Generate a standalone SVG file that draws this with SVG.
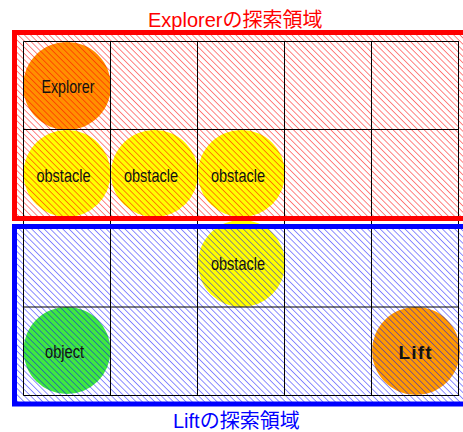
<svg xmlns="http://www.w3.org/2000/svg" width="463" height="432" viewBox="0 0 463 432">
<defs>
<pattern id="hr" patternUnits="userSpaceOnUse" width="4.4" height="10" patternTransform="rotate(-45)">
<line x1="1" y1="0" x2="1" y2="10" stroke="#ff0000" stroke-opacity="0.55" stroke-width="1" shape-rendering="crispEdges"/>
</pattern>
<pattern id="hb" patternUnits="userSpaceOnUse" width="4.4" height="10" patternTransform="rotate(-45)">
<line x1="1" y1="0" x2="1" y2="10" stroke="#0000ff" stroke-opacity="0.5" stroke-width="1" shape-rendering="crispEdges"/>
</pattern>
</defs>
<style>
.lbl{font-family:"Liberation Sans",Arial,sans-serif;font-size:19px;fill:#111;text-anchor:middle}
.ttl{font-family:"Liberation Sans","Noto Sans CJK JP",sans-serif;font-size:20px}
.grid line{stroke:#000;stroke-width:1}
.obs{fill:#ffff00}
</style>
<g id="explorer-area-title"><text class="ttl" x="148" y="27" fill="#ff0000">Explorerの探索領域</text></g>
<g id="lift-area-title"><text class="ttl" x="173" y="428" fill="#0000ff">Liftの探索領域</text></g>

<g id="explorer"><circle cx="67" cy="86" r="44" fill="#ff9000"/></g>
<g id="obstacle1"><circle cx="67" cy="173.5" r="43.5" class="obs"/></g>
<g id="obstacle2"><circle cx="154.5" cy="173.5" r="43.5" class="obs"/></g>
<g id="obstacle3"><circle cx="241.5" cy="173.5" r="43.5" class="obs"/></g>
<g id="obstacle4"><circle cx="241.5" cy="263.5" r="43.5" class="obs"/></g>
<g id="object"><circle cx="67" cy="350.5" r="43.5" fill="#40e840"/></g>
<g id="lift"><circle cx="416" cy="351" r="44" fill="#ff9a00"/></g>

<rect x="14.5" y="32.5" width="460" height="186" fill="url(#hr)"/>
<rect x="14.5" y="226.5" width="460" height="177.5" fill="url(#hb)"/>

<g class="grid">
<line x1="23.5" y1="41.5" x2="459" y2="41.5"/>
<line x1="23.5" y1="129.5" x2="459" y2="129.5"/>
<line x1="23.5" y1="307" x2="459" y2="307"/>
<line x1="23.5" y1="395.5" x2="459" y2="395.5"/>
<line x1="23.5" y1="41.5" x2="23.5" y2="216.5"/>
<line x1="110.5" y1="41.5" x2="110.5" y2="216.5"/>
<line x1="197.5" y1="41.5" x2="197.5" y2="216.5"/>
<line x1="284.5" y1="41.5" x2="284.5" y2="216.5"/>
<line x1="371.5" y1="41.5" x2="371.5" y2="216.5"/>
<line x1="458.5" y1="41.5" x2="458.5" y2="216.5"/>
<line x1="23.5" y1="219" x2="23.5" y2="395.5"/>
<line x1="110.5" y1="219" x2="110.5" y2="395.5"/>
<line x1="197.5" y1="219" x2="197.5" y2="395.5"/>
<line x1="284.5" y1="219" x2="284.5" y2="395.5"/>
<line x1="371.5" y1="219" x2="371.5" y2="395.5"/>
<line x1="458.5" y1="219" x2="458.5" y2="395.5"/>
</g>

<rect x="14.5" y="32.5" width="460" height="186" fill="none" stroke="#ff0000" stroke-width="5"/>
<rect x="14.5" y="226.5" width="460" height="177.5" fill="none" stroke="#0000ff" stroke-width="5"/>

<g id="labels">
<text class="lbl" x="68" y="92.5" textLength="53" lengthAdjust="spacingAndGlyphs">Explorer</text>
<text class="lbl" x="63.5" y="181.5" textLength="54" lengthAdjust="spacingAndGlyphs">obstacle</text>
<text class="lbl" x="151" y="181.5" textLength="54" lengthAdjust="spacingAndGlyphs">obstacle</text>
<text class="lbl" x="238" y="181.5" textLength="54" lengthAdjust="spacingAndGlyphs">obstacle</text>
<text class="lbl" x="238" y="269.5" textLength="54" lengthAdjust="spacingAndGlyphs">obstacle</text>
<text class="lbl" x="64.5" y="357.5" textLength="39" lengthAdjust="spacingAndGlyphs">object</text>
<text class="lbl" x="415" y="359" font-weight="bold" textLength="33" lengthAdjust="spacing">Lift</text>
</g>
</svg>
